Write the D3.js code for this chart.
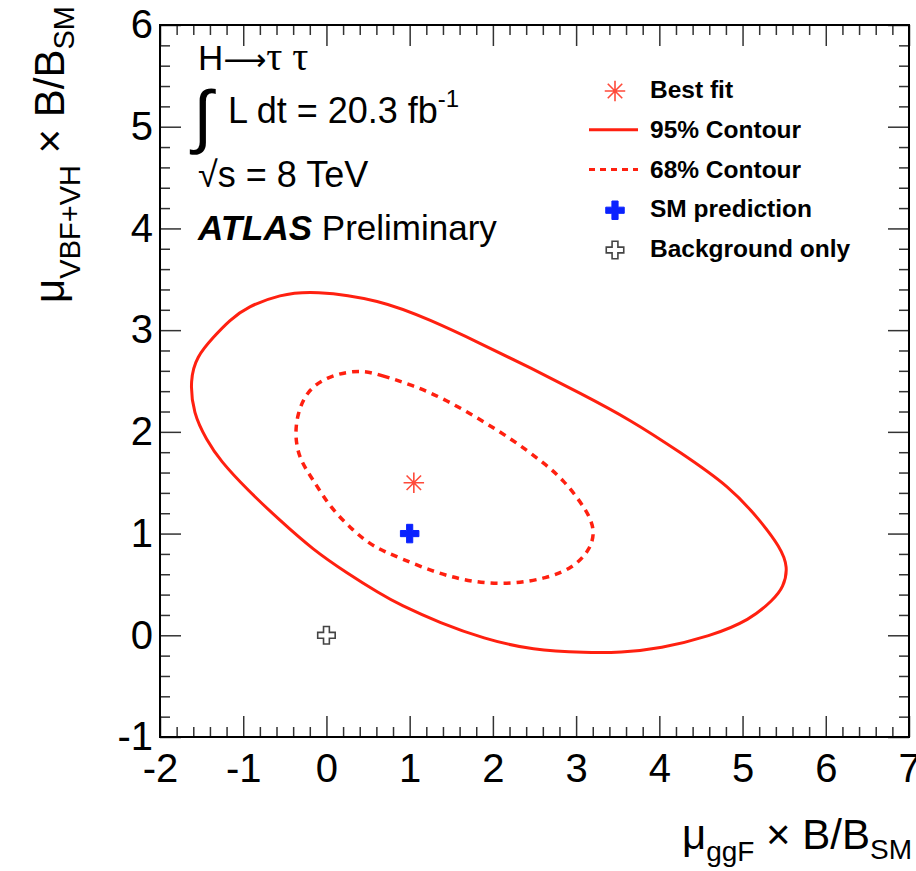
<!DOCTYPE html>
<html>
<head>
<meta charset="utf-8">
<script src="https://cdn.jsdelivr.net/npm/d3@7"></script>
<style>
  body { margin: 0; background: #fff; }
  text { font-family: "Liberation Sans", Arial, Helvetica, sans-serif; }
</style>
</head>
<body>
<script>
// Variables
var width = 916;
var height = 871;
var margin = {left: 160, right: 7, top: 25, bottom: 134};

// Data
var xDomain = [-2, 7];
var yDomain = [-1, 6];
var xTicks = [-2, -1, 0, 1, 2, 3, 4, 5, 6, 7];
var yTicks = [-1, 0, 1, 2, 3, 4, 5, 6];

// 95% contour (mu_ggF, mu_VBF+VH)
var contour95x = [-0.16, 0.64, 1.25, 1.85, 2.45, 3.05, 3.65, 4.25, 4.85, 5.21, 5.45, 5.55, 5.49, 5.37, 5.09, 4.61, 4.01, 3.53, 3.13, 2.48, 1.88, 1.37, 0.88, 0.64, 0.25, -0.16, -0.56, -0.95, -1.28, -1.44, -1.60, -1.64, -1.56, -1.36, -1.16, -0.95, -0.56];
var contour95y = [3.39, 3.30, 3.10, 2.87, 2.63, 2.38, 2.12, 1.80, 1.46, 1.13, 0.87, 0.67, 0.47, 0.35, 0.15, -0.01, -0.13, -0.17, -0.17, -0.15, -0.03, 0.12, 0.30, 0.41, 0.61, 0.84, 1.13, 1.43, 1.72, 1.92, 2.18, 2.51, 2.74, 2.93, 3.10, 3.23, 3.35];

// 68% contour
var contour68x = [0.46, 0.64, 1.04, 1.45, 1.85, 2.24, 2.57, 2.84, 3.13, 3.23, 3.17, 2.96, 2.65, 2.21, 1.76, 1.33, 0.88, 0.56, 0.32, 0.04, -0.16, -0.32, -0.38, -0.35, -0.23, 0.01, 0.25];
var contour68y = [2.60, 2.56, 2.46, 2.31, 2.12, 1.92, 1.72, 1.54, 1.23, 1.03, 0.84, 0.66, 0.56, 0.50, 0.52, 0.61, 0.76, 0.87, 1.03, 1.26, 1.53, 1.72, 1.95, 2.18, 2.41, 2.54, 2.59];

var bestFit = [1.05, 1.5];
var smPoint = [1, 1];
var bkgPoint = [0, 0];

var legendLabels = ["Best fit", "95% Contour", "68% Contour", "SM prediction", "Background only"];

var red = "#ff2010";

var svg = d3.select("body").append("svg")
    .attr("width", width).attr("height", height);

var x = d3.scaleLinear().domain(xDomain).range([margin.left, width - margin.right]);
var y = d3.scaleLinear().domain(yDomain).range([height - margin.bottom, margin.top]);

var x0 = x.range()[0], x1 = x.range()[1];
var y0 = y.range()[0], y1 = y.range()[1];

// Ticks (ROOT style, inward on all four sides)
var xMinor = x.ticks(45).filter(function(d) { return Math.abs(d - Math.round(d)) > 1e-6; });
var yMinor = y.ticks(35).filter(function(d) { return Math.abs(d - Math.round(d)) > 1e-6; });
var plain = function(d) { return String(d); };

function styleAxis(g) {
    g.select(".domain").remove();
    g.selectAll("line").attr("stroke", "#333").attr("stroke-width", 1.5);
}
function styleLabels(g) {
    g.selectAll("text").attr("font-size", 40).attr("fill", "#000")
        .style("font-family", "Liberation Sans, Arial, sans-serif");
}

// bottom
svg.append("g").attr("transform", "translate(0," + y0 + ")")
    .call(d3.axisBottom(x).tickValues(xTicks).tickSize(-21).tickPadding(17).tickFormat(plain))
    .call(styleAxis).call(styleLabels);
svg.append("g").attr("transform", "translate(0," + y0 + ")")
    .call(d3.axisBottom(x).tickValues(xMinor).tickSize(-10).tickFormat(""))
    .call(styleAxis);
// top
svg.append("g").attr("transform", "translate(0," + y1 + ")")
    .call(d3.axisTop(x).tickValues(xTicks).tickSize(-21).tickFormat(""))
    .call(styleAxis);
svg.append("g").attr("transform", "translate(0," + y1 + ")")
    .call(d3.axisTop(x).tickValues(xMinor).tickSize(-10).tickFormat(""))
    .call(styleAxis);
// left
svg.append("g").attr("transform", "translate(" + x0 + ",0)")
    .call(d3.axisLeft(y).tickValues(yTicks).tickSize(-21).tickPadding(7).tickFormat(plain))
    .call(styleAxis).call(styleLabels);
svg.append("g").attr("transform", "translate(" + x0 + ",0)")
    .call(d3.axisLeft(y).tickValues(yMinor).tickSize(-10).tickFormat(""))
    .call(styleAxis);
// right
svg.append("g").attr("transform", "translate(" + x1 + ",0)")
    .call(d3.axisRight(y).tickValues(yTicks).tickSize(-21).tickFormat(""))
    .call(styleAxis);
svg.append("g").attr("transform", "translate(" + x1 + ",0)")
    .call(d3.axisRight(y).tickValues(yMinor).tickSize(-10).tickFormat(""))
    .call(styleAxis);

// Frame
svg.append("rect")
    .attr("x", x0).attr("y", y1)
    .attr("width", x1 - x0).attr("height", y0 - y1)
    .attr("fill", "none").attr("stroke", "#000").attr("stroke-width", 2);

// Contours
var line = d3.line()
    .x(function(d) { return x(d[0]); })
    .y(function(d) { return y(d[1]); })
    .curve(d3.curveBasisClosed);

var c95 = d3.zip(contour95x, contour95y);
var c68 = d3.zip(contour68x, contour68y);

svg.append("path").datum(c95)
    .attr("d", line)
    .attr("fill", "none").attr("stroke", red).attr("stroke-width", 3);

svg.append("path").datum(c68)
    .attr("d", line)
    .attr("fill", "none").attr("stroke", red).attr("stroke-width", 3.5)
    .attr("stroke-dasharray", "7,6");

// Markers
var asterisk = {
    draw: function(context, size) {
        var r = Math.sqrt(size) / 2;
        var s = r * Math.SQRT1_2;
        context.moveTo(-r, 0); context.lineTo(r, 0);
        context.moveTo(0, -r); context.lineTo(0, r);
        context.moveTo(-s, -s); context.lineTo(s, s);
        context.moveTo(-s, s); context.lineTo(s, -s);
    }
};

function drawStar(px, py) {
    svg.append("path")
        .attr("d", d3.symbol().type(asterisk).size(420)())
        .attr("transform", "translate(" + px + "," + py + ")")
        .attr("fill", "none").attr("stroke", "#ff4a3a").attr("stroke-width", 1.6);
}
function drawFullCross(px, py) {
    svg.append("path")
        .attr("d", d3.symbol().type(d3.symbolCross).size(190)())
        .attr("transform", "translate(" + px + "," + py + ")")
        .attr("fill", "#0a22ff").attr("stroke", "#0a22ff").attr("stroke-width", 1);
}
function drawOpenCross(px, py) {
    svg.append("path")
        .attr("d", d3.symbol().type(d3.symbolCross).size(170)())
        .attr("transform", "translate(" + px + "," + py + ")")
        .attr("fill", "#fff").attr("stroke", "#444").attr("stroke-width", 1.6);
}

drawStar(x(bestFit[0]), y(bestFit[1]));
drawFullCross(x(smPoint[0]), y(smPoint[1]));
drawOpenCross(x(bkgPoint[0]), y(bkgPoint[1]));

// Axis titles
svg.append("text")
    .attr("x", 912).attr("y", 849)
    .attr("text-anchor", "end")
    .attr("font-size", 42)
    .call(function(t) {
        t.append("tspan").text("μ");
        t.append("tspan").attr("font-size", 28).attr("dy", 12).text("ggF");
        t.append("tspan").attr("dy", -12).text(" × B/B");
        t.append("tspan").attr("font-size", 28).attr("dy", 10).text("SM");
    });

svg.append("text")
    .attr("transform", "translate(64,6) rotate(-90)")
    .attr("text-anchor", "end")
    .attr("font-size", 42)
    .call(function(t) {
        t.append("tspan").text("μ");
        t.append("tspan").attr("font-size", 29).attr("dy", 16).text("VBF+VH");
        t.append("tspan").attr("dy", -16).text(" × B/B");
        t.append("tspan").attr("font-size", 29).attr("dy", 10).text("SM");
    });

// Top-left labels
var labelX = 198;
svg.append("text").attr("x", labelX).attr("y", 70).attr("font-size", 35)
    .call(function(t) {
        t.append("tspan").text("H");
        t.append("tspan").style("font-family", "DejaVu Sans, sans-serif").attr("font-size", 30).text("⟶");
        t.append("tspan").style("font-family", "Liberation Serif, serif").attr("font-size", 40).text("τ τ");
    });
svg.append("text").attr("x", labelX - 5).attr("y", 140).attr("font-size", 70)
    .style("font-family", "DejaVu Sans, sans-serif").attr("font-weight", 200).text("∫");
svg.append("text").attr("x", 228).attr("y", 123).attr("font-size", 36)
    .call(function(t) {
        t.append("tspan").text("L dt = 20.3 fb");
        t.append("tspan").attr("font-size", 24).attr("dy", -16).text("-1");
    });
svg.append("text").attr("x", labelX).attr("y", 187).attr("font-size", 36)
    .text("√s = 8 TeV");
svg.append("text").attr("x", labelX).attr("y", 240).attr("font-size", 35)
    .call(function(t) {
        t.append("tspan").attr("font-weight", "bold").attr("font-style", "italic").text("ATLAS");
        t.append("tspan").text(" Preliminary");
    });

// Legend
var legendY = d3.scaleLinear().domain([0, legendLabels.length - 1]).range([98, 257]);
var legend = svg.append("g");
legend.selectAll("text").data(legendLabels).enter().append("text")
    .attr("x", 650)
    .attr("y", function(d, i) { return legendY(i); })
    .attr("font-size", 24.5)
    .attr("font-weight", "bold")
    .text(function(d) { return d; });

drawStar(615, legendY(0) - 7);
legend.append("line")
    .attr("x1", 589).attr("x2", 638)
    .attr("y1", legendY(1) - 8).attr("y2", legendY(1) - 8)
    .attr("stroke", red).attr("stroke-width", 3);
legend.append("line")
    .attr("x1", 589).attr("x2", 638)
    .attr("y1", legendY(2) - 8).attr("y2", legendY(2) - 8)
    .attr("stroke", red).attr("stroke-width", 3)
    .attr("stroke-dasharray", "6,5");
drawFullCross(615, legendY(3) - 7);
drawOpenCross(615, legendY(4) - 7);
</script>
</body>
</html>
